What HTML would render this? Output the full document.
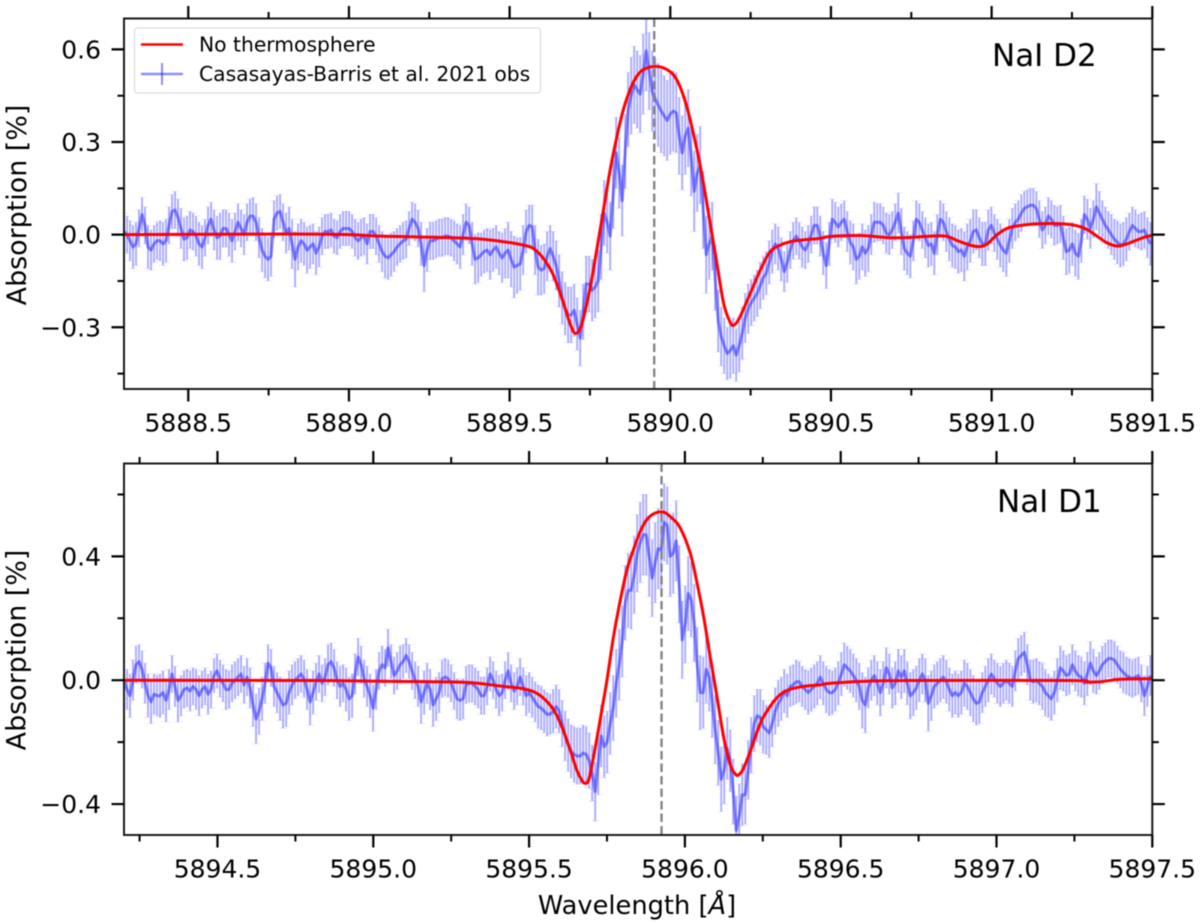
<!DOCTYPE html>
<html lang="en">
<head>
<meta charset="utf-8">
<title>NaI D2 and D1 absorption</title>
<style>
html,body{margin:0;padding:0;background:#fff;}
svg{display:block;filter:blur(0.45px);}
text{font-family:"DejaVu Sans","Liberation Sans",sans-serif;fill:#000;}
</style>
</head>
<body>
<svg id="figure" xmlns="http://www.w3.org/2000/svg" width="1200" height="924" viewBox="0 0 1200 924">
  <defs>
    <clipPath id="clip-d2"><rect x="124" y="18.5" width="1028.3" height="370.5"/></clipPath>
    <clipPath id="clip-d1"><rect x="124" y="463.5" width="1028.3" height="371.5"/></clipPath>
  </defs>
  <g id="panel-d2"></g>
  <g id="panel-d1"></g>
  <g>
    <rect x="134.5" y="28" width="406" height="65" rx="3" fill="#fff" fill-opacity="0.8" stroke="#d6d6d6" stroke-width="1"/>
    <line x1="141" y1="44.5" x2="183" y2="44.5" stroke="#ff0000" stroke-width="2.6"/>
    <text x="199" y="51.5" font-size="20.3">No thermosphere</text>
    <line x1="141" y1="74" x2="183" y2="74" stroke="#0000ff" stroke-opacity="0.45" stroke-width="2.4"/>
    <line x1="162" y1="63" x2="162" y2="85" stroke="#0000ff" stroke-opacity="0.45" stroke-width="2"/>
    <text x="199" y="81" font-size="20.3">Casasayas-Barris et al. 2021 obs</text>
  </g>
  <text x="992" y="66" font-size="31">NaI D2</text>
  <text x="997" y="512" font-size="31">NaI D1</text>
  <text transform="translate(26,205) rotate(-90)" text-anchor="middle" font-size="26.9">Absorption [%]</text>
  <text transform="translate(25.5,650) rotate(-90)" text-anchor="middle" font-size="26.9">Absorption [%]</text>
  <text x="637" y="914" text-anchor="middle" font-size="25.7">Wavelength [<tspan font-style="italic">Å</tspan>]</text>
</svg>
<script>
const d2ObsStart = 5888.3;
const d2ObsStep = 0.009339;
const d2ObsValues = [
 .01,.0,-.02,-.04,-.03,.02,.065,.03,-.04,-.05,
 -.03,-.02,-.02,-.03,-.02,.03,.075,.08,.055,.02,
 -.015,-.01,.015,.01,-.005,-.03,-.04,-.01,.03,.05,
 .015,-.01,-.005,.02,.02,.0,-.02,.01,.04,.02,
 0,.04,.06,.06,.04,-.01,-.05,-.07,-.08,-.07,
 .05,.07,.075,.04,.005,.02,-.03,-.08,-.04,-.02,
 -.03,-.05,-.04,-.03,-.06,-.04,-.005,.01,.01,.015,
 -.005,-.01,.01,.02,.02,.02,.01,-.01,-.02,-.01,
 -.005,-.03,.01,.01,-.005,-.03,-.055,-.07,-.075,-.065,
 -.055,-.04,-.03,-.02,-.015,.02,.05,.04,.02,-.03,
 -.10,-.05,-.02,-.02,-.015,-.01,-.01,-.005,-.005,-.01,
 -.02,-.03,-.04,.0,.04,.03,-.03,-.08,-.075,-.065,
 -.055,-.05,-.065,-.05,-.04,-.06,-.075,-.06,-.05,-.08,
 -.105,-.10,-.095,-.05,.01,.03,.025,-.05,-.105,-.115,
 -.11,-.07,-.045,-.07,-.10,-.15,-.205,-.24,-.26,-.26,
 -.245,-.29,-.335,-.25,-.16,-.16,-.18,-.17,-.15,-.04,
 .07,.04,-.005,.13,.265,.2,.11,.27,.405,.45,
 .485,.47,.455,.52,.595,.53,.465,.44,.42,.40,
 .385,.37,.39,.40,.395,.32,.265,.32,.345,.25,
 .14,.2,.225,.08,-.065,-.03,-.005,-.14,-.28,-.33,
 -.36,-.385,-.375,-.36,-.39,-.36,-.32,-.27,-.24,-.22,
 -.205,-.19,-.165,-.14,-.125,-.09,-.055,-.03,-.045,-.08,
 -.12,-.09,-.05,-.02,-.005,-.02,-.04,-.05,-.03,.0,
 .03,.03,-.005,-.06,-.10,-.03,.05,.04,.025,.04,
 .05,.01,-.025,-.04,-.08,-.07,-.04,-.06,-.045,.0,
 .04,.04,.04,.03,.005,.0,.015,.04,.07,.01,
 -.045,-.06,-.07,-.02,.05,.04,.015,-.01,-.035,-.03,
 -.06,.0,.05,.04,.01,-.015,-.035,-.04,-.055,-.05,
 -.07,-.04,-.02,.01,.015,-.01,-.03,-.03,.015,.03,
 .005,-.015,-.035,-.05,-.06,-.02,.02,.04,.05,.07,
 .085,.09,.095,.095,.085,.05,.015,.03,.06,.05,
 .03,.03,.035,-.01,-.055,-.05,-.03,-.06,-.07,-.02,
 .065,.05,.02,.05,.09,.07,.05,.03,.015,.0,
 -.015,-.025,-.035,-.03,-.015,.01,.03,.02,.01,.01,
 .015,-.01,-.03
];
const d2ObsErrors = [
 .06,.06,.065,.07,.07,.06,.055,.06,.07,.065,
 .06,.06,.065,.07,.07,.06,.055,.06,.06,.065,
 .07,.07,.06,.06,.065,.07,.07,.06,.06,.055,
 .065,.07,.075,.06,.06,.07,.07,.06,.06,.06,
 .065,.06,.055,.06,.06,.065,.07,.07,.07,.065,
 .06,.055,.055,.06,.065,.07,.08,.09,.075,.07,
 .07,.075,.07,.065,.07,.065,.06,.055,.055,.055,
 .055,.055,.055,.055,.055,.055,.055,.06,.06,.06,
 .06,.065,.055,.055,.06,.06,.065,.07,.07,.07,
 .065,.06,.06,.06,.06,.055,.055,.06,.06,.07,
 .085,.07,.06,.06,.06,.06,.06,.06,.06,.06,
 .065,.065,.07,.065,.06,.06,.07,.08,.08,.07,
 .07,.07,.08,.07,.07,.07,.08,.08,.09,.09,
 .10,.09,.085,.08,.07,.065,.07,.08,.09,.08,
 .08,.08,.075,.08,.08,.085,.085,.085,.09,.09,
 .085,.085,.09,.09,.09,.09,.10,.10,.10,.105,
 .105,.10,.11,.11,.115,.115,.115,.12,.12,.125,
 .125,.125,.125,.13,.13,.125,.13,.13,.135,.135,
 .13,.13,.13,.13,.13,.125,.12,.125,.125,.125,
 .13,.125,.125,.125,.125,.115,.11,.105,.10,.095,
 .09,.085,.09,.09,.085,.085,.085,.08,.08,.075,
 .075,.075,.075,.07,.07,.07,.07,.065,.07,.07,
 .065,.065,.06,.06,.06,.06,.065,.06,.06,.06,
 .06,.06,.065,.07,.075,.07,.065,.065,.065,.06,
 .06,.065,.07,.075,.08,.075,.075,.075,.075,.065,
 .065,.06,.06,.06,.065,.065,.06,.06,.065,.075,
 .07,.07,.07,.065,.06,.06,.06,.065,.07,.07,
 .07,.065,.06,.06,.065,.07,.07,.07,.07,.07,
 .08,.075,.07,.07,.065,.065,.07,.07,.065,.06,
 .06,.065,.07,.07,.075,.07,.065,.06,.06,.06,
 .055,.055,.055,.055,.055,.06,.06,.06,.06,.06,
 .065,.06,.06,.07,.075,.075,.07,.075,.075,.07,
 .06,.065,.065,.06,.075,.07,.06,.06,.06,.065,
 .065,.07,.07,.07,.07,.06,.06,.06,.055,.06,
 .06,.065,.07
];
const d2ModelWavelengths = [
 5888.3,5888.8,5889.0,5889.1,5889.377,5889.481,5889.543,5889.574,5889.605,5889.636,
 5889.668,5889.688,5889.705,5889.725,5889.751,5889.771,5889.792,5889.813,5889.834,5889.854,
 5889.875,5889.896,5889.917,5889.953,5889.989,5890.020,5890.051,5890.083,5890.103,5890.124,
 5890.145,5890.166,5890.186,5890.199,5890.217,5890.249,5890.280,5890.311,5890.342,5890.373,
 5890.415,5890.467,5890.497,5890.591,5890.684,5890.75,5890.85,5890.892,5890.933,5890.961,
 5890.985,5891.016,5891.047,5891.078,5891.14,5891.224,5891.265,5891.296,5891.327,5891.358,
 5891.39,5891.421,5891.473,5891.5
];
const d2ModelValues = [
 0,.002,0,-.005,-.012,-.023,-.034,-.045,-.077,-.131,
 -.223,-.288,-.32,-.288,-.169,-.05,.08,.21,.318,.405,
 .47,.513,.535,.545,.535,.502,.416,.275,.167,.037,
 -.093,-.223,-.283,-.293,-.266,-.19,-.115,-.055,-.034,-.023,
 -.017,-.012,-.006,-.003,-.01,-.009,-.004,-.019,-.034,-.039,
 -.031,-.001,.02,.028,.035,.035,.029,.017,-.004,-.026,
 -.037,-.03,-.009,-.002
];
const d2XMajor = [5888.5,5889.0,5889.5,5890.0,5890.5,5891.0,5891.5];
const d2XLabels = ["5888.5","5889.0","5889.5","5890.0","5890.5","5891.0","5891.5"];
const d2XMinor = [5888.75,5889.25,5889.75,5890.25,5890.75,5891.25];
const d2YMajor = [-0.3,0,0.3,0.6];
const d2YLabels = ["\u22120.3","0.0","0.3","0.6"];
const d2YMinor = [-0.45,-0.15,0.15,0.45];
const d2LineCenter = 5889.95;

const d1ObsStart = 5894.2;
const d1ObsStep = 0.009631;
const d1ObsValues = [
 0,-.03,-.05,.0,.05,.06,.035,-.01,-.05,-.07,
 -.045,-.05,-.05,-.04,-.065,-.03,.02,-.02,-.065,-.05,
 -.03,-.025,-.035,-.02,-.03,-.05,-.03,-.02,-.045,-.03,
 .015,.03,.005,-.01,-.03,-.03,-.01,.0,.01,.02,
 -.015,.01,-.025,-.08,-.125,-.1,-.06,-.01,.055,.04,
 -.02,-.04,-.06,-.08,-.075,-.04,-.015,.0,.01,.02,
 .005,-.03,-.07,-.04,-.005,.02,-.01,.01,.05,.06,
 .04,.0,-.02,-.01,-.03,-.06,-.05,.02,.075,.05,
 .005,-.02,-.05,-.09,-.03,.03,.05,.04,.105,.06,
 .015,.03,.05,.06,.08,.06,.03,.0,-.02,-.07,
 -.04,-.01,-.03,-.08,-.06,-.04,.005,.01,.005,-.01,
 -.035,-.06,-.065,-.06,-.015,-.01,-.01,-.02,-.03,-.05,
 -.05,-.02,.02,.0,-.03,-.05,-.04,.0,.03,-.01,
 -.035,-.02,.01,-.02,-.05,-.04,-.055,-.07,-.085,-.09,
 -.10,-.11,-.11,-.10,-.085,-.10,-.14,-.18,-.21,-.23,
 -.24,-.245,-.245,-.235,-.24,-.26,-.30,-.36,-.27,-.18,
 -.215,-.2,-.14,-.09,-.01,.05,.125,.25,.29,.29,
 .34,.41,.445,.47,.47,.40,.33,.38,.425,.42,
 .51,.50,.40,.41,.45,.31,.13,.18,.28,.26,
 .185,.05,-.04,-.04,.035,.01,-.07,-.16,-.235,-.32,
 -.29,-.22,-.26,-.36,-.485,-.44,-.37,-.37,-.29,-.21,
 -.14,-.115,-.12,-.15,-.16,-.17,-.14,-.1,-.075,-.06,
 -.035,-.05,-.02,-.015,-.005,-.005,-.02,-.03,-.04,-.03,
 -.02,-.01,.01,-.01,-.03,-.04,-.04,-.03,-.01,.02,
 .05,.04,.03,.015,0,-.02,-.065,-.08,-.025,.0,
 .015,-.01,-.04,-.01,.04,.02,-.025,-.01,.03,.01,
 .03,-.01,-.05,-.04,-.025,.0,.02,.0,-.075,-.05,
 -.02,-.01,0,.01,-.005,-.03,-.05,-.04,-.05,-.04,
 -.01,-.02,-.04,-.06,-.075,-.07,-.04,-.02,0,.02,
 .005,-.01,-.02,-.01,0,-.01,-.02,.03,.07,.08,
 .09,.05,0,-.005,0,-.01,-.02,-.04,-.05,-.06,
 -.04,.0,.04,.03,.015,.02,.05,.03,.015,.01,
 -.01,.02,.055,.03,.015,.03,.05,.06,.07,.07,
 .065,.05,.035,.025,.015,.01,.005,.01,.015,-.01,
 -.05,-.02,.015
];
const d1ObsErrors = [
 .06,.065,.07,.065,.06,.055,.06,.065,.07,.07,
 .065,.065,.07,.07,.07,.065,.06,.065,.07,.065,
 .06,.06,.065,.06,.065,.065,.06,.06,.065,.06,
 .055,.055,.06,.06,.065,.06,.06,.06,.06,.06,
 .06,.06,.065,.07,.08,.075,.07,.065,.06,.06,
 .065,.065,.07,.075,.075,.07,.065,.06,.06,.06,
 .06,.065,.075,.07,.06,.06,.06,.06,.065,.06,
 .06,.06,.065,.06,.07,.07,.07,.065,.06,.06,
 .06,.065,.07,.075,.065,.06,.06,.06,.06,.055,
 .06,.06,.06,.055,.055,.055,.06,.06,.065,.07,
 .07,.065,.065,.07,.07,.065,.06,.06,.06,.06,
 .06,.065,.065,.065,.06,.06,.06,.06,.06,.06,
 .06,.06,.055,.06,.06,.065,.06,.06,.06,.06,
 .06,.06,.06,.06,.065,.065,.065,.065,.07,.07,
 .07,.07,.065,.07,.07,.07,.075,.08,.085,.085,
 .09,.09,.09,.09,.09,.09,.09,.095,.10,.10,
 .10,.10,.10,.105,.11,.115,.115,.12,.12,.125,
 .125,.125,.13,.13,.13,.13,.125,.13,.13,.125,
 .125,.125,.13,.13,.13,.125,.125,.125,.12,.12,
 .125,.12,.12,.115,.11,.11,.115,.11,.105,.105,
 .11,.10,.10,.105,.11,.105,.10,.095,.095,.09,
 .09,.085,.09,.085,.08,.08,.075,.075,.075,.07,
 .07,.07,.065,.065,.07,.065,.065,.065,.07,.07,
 .07,.07,.07,.07,.075,.075,.07,.07,.07,.07,
 .07,.07,.07,.07,.07,.075,.09,.09,.065,.065,
 .065,.07,.075,.07,.065,.065,.065,.07,.07,.07,
 .07,.07,.075,.075,.07,.07,.065,.07,.09,.08,
 .07,.07,.07,.07,.07,.07,.07,.07,.07,.07,
 .075,.075,.075,.075,.07,.07,.065,.065,.07,.065,
 .06,.065,.065,.065,.065,.065,.065,.065,.065,.065,
 .065,.065,.065,.07,.07,.07,.075,.075,.07,.07,
 .07,.07,.07,.065,.065,.065,.065,.065,.065,.065,
 .07,.07,.07,.07,.06,.06,.06,.06,.06,.06,
 .06,.06,.06,.065,.06,.06,.06,.06,.06,.06,
 .065,.065,.065
];
const d1ModelWavelengths = [
 5894.2,5894.8,5895.0,5895.2,5895.311,5895.418,5895.472,5895.514,5895.546,5895.579,
 5895.605,5895.632,5895.653,5895.669,5895.679,5895.691,5895.707,5895.728,5895.75,5895.771,
 5895.793,5895.814,5895.835,5895.857,5895.878,5895.905,5895.932,5895.958,5895.985,5896.017,
 5896.039,5896.06,5896.081,5896.103,5896.124,5896.146,5896.162,5896.172,5896.188,5896.215,
 5896.242,5896.269,5896.301,5896.333,5896.381,5896.435,5896.466,5896.563,5896.723,5897.237,
 5897.29,5897.333,5897.397,5897.5
];
const d1ModelValues = [
 0,-.001,-.003,-.005,-.008,-.02,-.026,-.037,-.058,-.096,
 -.15,-.225,-.29,-.323,-.333,-.323,-.247,-.128,.001,.141,
 .26,.357,.422,.481,.519,.54,.543,.524,.492,.411,
 .314,.206,.077,-.053,-.182,-.274,-.303,-.306,-.285,-.215,
 -.139,-.091,-.051,-.031,-.02,-.015,-.01,-.004,-.001,-.001,
 -.006,-.005,.003,.005
];
const d1XMajor = [5894.5,5895.0,5895.5,5896.0,5896.5,5897.0,5897.5];
const d1XLabels = ["5894.5","5895.0","5895.5","5896.0","5896.5","5897.0","5897.5"];
const d1XMinor = [5894.25,5894.75,5895.25,5895.75,5896.25,5896.75,5897.25];
const d1YMajor = [-0.4,0,0.4];
const d1YLabels = ["\u22120.4","0.0","0.4"];
const d1YMinor = [-0.2,0.2,0.6];
const d1LineCenter = 5895.925;

const SVG_NS = 'http://www.w3.org/2000/svg';

function make(parent, tag, attrs) {
  const el = document.createElementNS(SVG_NS, tag);
  for (const key in attrs) el.setAttribute(key, attrs[key]);
  parent.appendChild(el);
  return el;
}

function smoothPath(xs, ys) {
  let d = 'M' + xs[0].toFixed(2) + ' ' + ys[0].toFixed(2);
  for (let i = 0; i < xs.length - 1; i++) {
    const i0 = Math.max(0, i - 1);
    const i3 = Math.min(xs.length - 1, i + 2);
    const c1x = xs[i] + (xs[i + 1] - xs[i0]) / 6;
    const c1y = ys[i] + (ys[i + 1] - ys[i0]) / 6;
    const c2x = xs[i + 1] - (xs[i3] - xs[i]) / 6;
    const c2y = ys[i + 1] - (ys[i3] - ys[i]) / 6;
    d += 'C' + c1x.toFixed(2) + ' ' + c1y.toFixed(2) + ' ' + c2x.toFixed(2) + ' ' + c2y.toFixed(2) + ' ' + xs[i + 1].toFixed(2) + ' ' + ys[i + 1].toFixed(2);
  }
  return d;
}

function drawPanel(p) {
  const root = document.getElementById(p.rootId);
  const xScale = function (w) { return p.left + (w - p.xMin) / (p.xMax - p.xMin) * (p.right - p.left); };
  const yScale = function (v) { return p.bottom - (v - p.yMin) / (p.yMax - p.yMin) * (p.bottom - p.top); };
  const plot = make(root, 'g', { 'clip-path': 'url(#' + p.clipId + ')' });
  
  

  const obsX = p.values.map(function (v, i) { return xScale(p.start + i * p.step); });
  const obsY = p.values.map(function (v) { return yScale(v); });

  const bars = make(plot, 'g', { stroke: '#0000ff' });
  
  
  p.values.forEach(function (v, i) {
    const hi = yScale(v + p.errors[i]);
    const lo = yScale(v - p.errors[i]);
    const x = obsX[i];
    const stem = make(bars, 'line', { x1: x, x2: x, y1: hi, y2: lo, 'stroke-width': 1.9, 'stroke-opacity': 0.33 });
    
    
    const caps = make(bars, 'path', { d: 'M' + (x - 4) + ' ' + hi + 'H' + (x + 4) + 'M' + (x - 4) + ' ' + lo + 'H' + (x + 4), 'stroke-width': 0.8, 'stroke-opacity': 0.1, fill: 'none' });
    
    
  });

  const obsLine = make(plot, 'path', {
    d: 'M' + obsX.map(function (x, i) { return x.toFixed(2) + ' ' + obsY[i].toFixed(2); }).join('L'),
    fill: 'none', stroke: '#0000ff', 'stroke-opacity': 0.45, 'stroke-width': 3, 'stroke-linejoin': 'round'
  });
  
  

  const lineX = xScale(p.center);
  const center = make(plot, 'line', { x1: lineX, x2: lineX, y1: p.top, y2: p.bottom, stroke: '#808080', 'stroke-width': 2.3, 'stroke-dasharray': '8.5 4' });
  
  

  const model = make(plot, 'path', {
    d: smoothPath(p.modelWl.map(xScale), p.modelVal.map(yScale)),
    fill: 'none', stroke: '#ff0000', 'stroke-width': 3, 'stroke-linejoin': 'round'
  });
  
  

  const axes = make(root, 'g', { stroke: '#000', fill: 'none' });
  
  
  const frame = make(axes, 'rect', { x: p.left, y: p.top, width: p.right - p.left, height: p.bottom - p.top, 'stroke-width': 2, 'stroke': '#1a1a1a' });
  
  

  function xTick(w, len, sw, name) {
    const x = xScale(w);
    const t = make(axes, 'path', { d: 'M' + x + ' ' + p.bottom + 'v' + len + 'M' + x + ' ' + p.top + 'v' + (-len), 'stroke-width': sw });
    
    
  }
  function yTick(v, len, sw, name) {
    const y = yScale(v);
    const t = make(axes, 'path', { d: 'M' + p.left + ' ' + y + 'h' + (-len) + 'M' + p.right + ' ' + y + 'h' + len, 'stroke-width': sw });
    
    
  }
  p.xMajor.forEach(function (w) { xTick(w, 12.5, 2.2, 'x-major-tick'); });
  p.xMinor.forEach(function (w) { xTick(w, 6.5, 2, 'x-minor-tick'); });
  p.yMajor.forEach(function (v) { yTick(v, 12.5, 2.2, 'y-major-tick'); });
  p.yMinor.forEach(function (v) { yTick(v, 6.5, 2, 'y-minor-tick'); });

  p.xMajor.forEach(function (w, i) {
    const t = make(root, 'text', { x: xScale(w), y: p.bottom + 42.5, 'text-anchor': 'middle', 'font-size': 25 });
    t.textContent = p.xLabels[i];
    
    
  });
  p.yMajor.forEach(function (v, i) {
    const t = make(root, 'text', { x: 101, y: yScale(v) + 9, 'text-anchor': 'end', 'font-size': 25 });
    t.textContent = p.yLabels[i];
    
    
  });
}

drawPanel({
  rootId: 'panel-d2', clipId: 'clip-d2',
  left: 124, right: 1152.3, top: 18.5, bottom: 389,
  xMin: 5888.3, xMax: 5891.5, yMin: -0.5, yMax: 0.7,
  start: d2ObsStart, step: d2ObsStep, values: d2ObsValues, errors: d2ObsErrors,
  modelWl: d2ModelWavelengths, modelVal: d2ModelValues, center: d2LineCenter,
  xMajor: d2XMajor, xLabels: d2XLabels, xMinor: d2XMinor,
  yMajor: d2YMajor, yLabels: d2YLabels, yMinor: d2YMinor
});
drawPanel({
  rootId: 'panel-d1', clipId: 'clip-d1',
  left: 124, right: 1152.3, top: 463.5, bottom: 835,
  xMin: 5894.2, xMax: 5897.5, yMin: -0.5, yMax: 0.7,
  start: d1ObsStart, step: d1ObsStep, values: d1ObsValues, errors: d1ObsErrors,
  modelWl: d1ModelWavelengths, modelVal: d1ModelValues, center: d1LineCenter,
  xMajor: d1XMajor, xLabels: d1XLabels, xMinor: d1XMinor,
  yMajor: d1YMajor, yLabels: d1YLabels, yMinor: d1YMinor
});
</script>
</body>
</html>
